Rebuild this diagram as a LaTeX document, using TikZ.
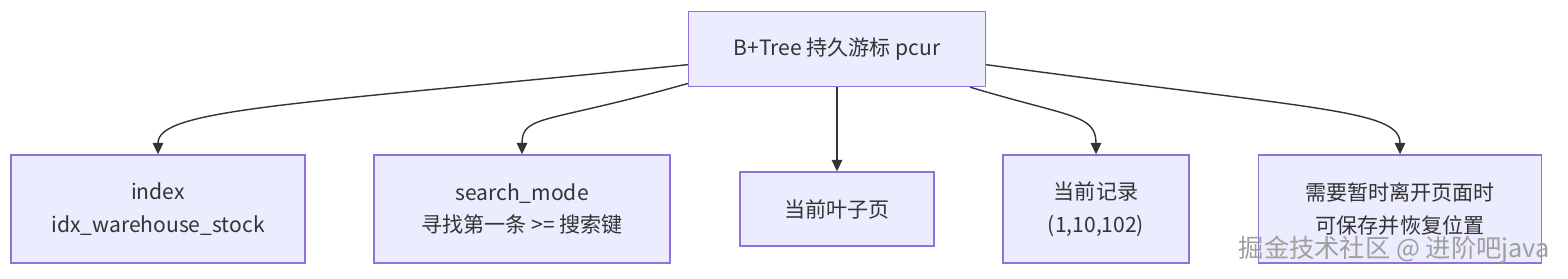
\documentclass[tikz,border=0pt]{standalone}
\usepackage{fontspec}
\setmainfont{Noto Sans CJK SC}
\usepackage{tikz}
\usetikzlibrary{arrows.meta, positioning}
\definecolor{boxfill}{HTML}{ECECFF}
\definecolor{boxline}{HTML}{9370DB}
\definecolor{ink}{HTML}{333333}

\begin{document}
\begin{tikzpicture}[
    x=0.02cm, y=0.02cm,
    box/.style={draw=boxline, fill=boxfill, line width=0.8pt, inner sep=0pt,
                text=ink, align=center, font=\fontsize{12}{18.7}\selectfont},
    edge/.style={-{Triangle[length=6.5pt, width=6pt]}, draw=ink, line width=0.8pt},
    wmark/.style={font=\fontsize{14.4}{16}\selectfont, text=gray!75},
]
    \useasboundingbox (0,0) rectangle (1568,278);
    \node[box, minimum width=5.94cm, minimum height=1.5cm] (pcur) at (837,229) {B+Tree 持久游标 pcur};
    \node[box, minimum width=5.88cm, minimum height=2.16cm] (idx) at (158,69) {index\\idx\_warehouse\_stock};
    \node[box, minimum width=5.92cm, minimum height=2.16cm] (mode) at (522,69) {search\_mode\\寻找第一条 >= 搜索键};
    \node[box, minimum width=3.88cm, minimum height=1.48cm] (leaf) at (837,69) {当前叶子页};
    \node[box, minimum width=3.72cm, minimum height=2.16cm] (rec) at (1096,69) {当前记录\\(1,10,102)};
    \node[box, minimum width=5.66cm, minimum height=2.16cm] (save) at (1400,69) {需要暂时离开页面时\\可保存并恢复位置};
    % connectors from the cursor
    \draw[edge] (pcur.186) .. controls +(-400,-40) and +(0,45) .. (idx.north);
    \draw[edge] (pcur.193) .. controls +(-140,-40) and +(0,40) .. (mode.north);
    \draw[edge] (pcur.south) -- (leaf.north);
    \draw[edge] (pcur.-16) .. controls +(100,-30) and +(0,40) .. (rec.north);
    \draw[edge] (pcur.-6) .. controls +(330,-45) and +(0,45) .. (save.north);
    \node[wmark, anchor=east] (wm) at (1556,28) {掘金技术社区 @ 进阶吧java};
\end{tikzpicture}
\end{document}
